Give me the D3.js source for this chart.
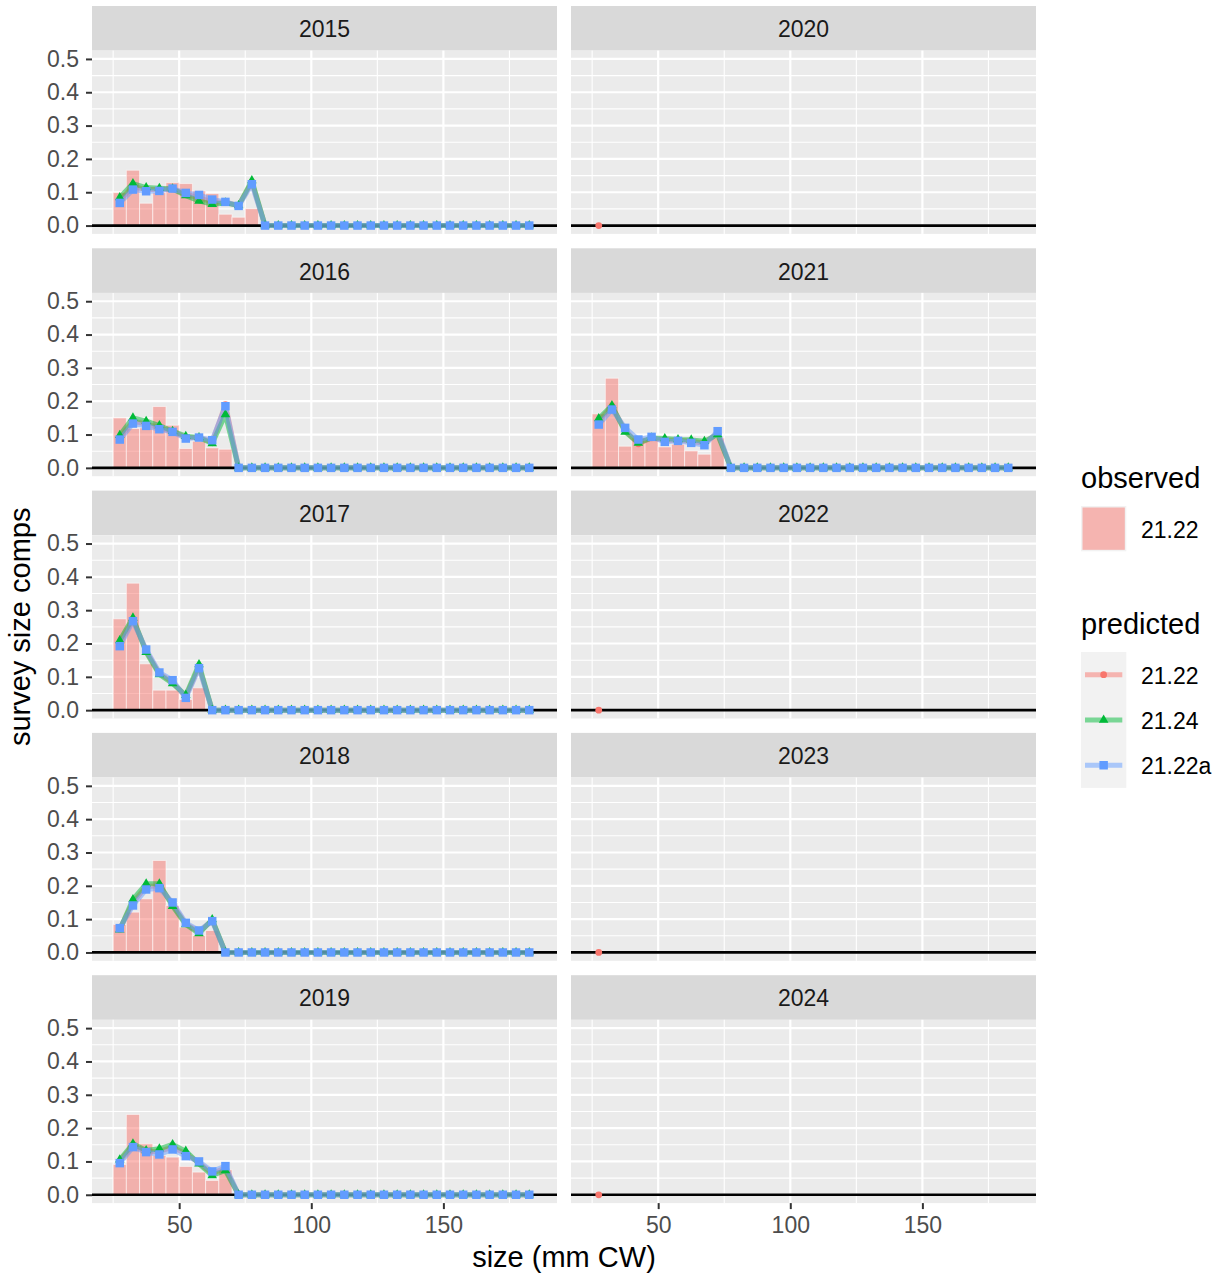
<!DOCTYPE html>
<html>
<head>
<meta charset="utf-8">
<script src="https://cdn.jsdelivr.net/npm/d3@7"></script>
<style>
  body { margin: 0; background: #fff; }
  svg text { font-family: "Liberation Sans", Arial, Helvetica, sans-serif; }
</style>
</head>
<body>
<div id="chart"></div>
<script>
// Facet years (left column 2015-2019, right column 2020-2024)
const years = [2015, 2016, 2017, 2018, 2019, 2020, 2021, 2022, 2023, 2024];

// Size bin mid points (mm CW)
const sizes = [27.5, 32.5, 37.5, 42.5, 47.5, 52.5, 57.5, 62.5, 67.5, 72.5, 77.5, 82.5, 87.5, 92.5, 97.5, 102.5,
  107.5, 112.5, 117.5, 122.5, 127.5, 132.5, 137.5, 142.5, 147.5, 152.5, 157.5, 162.5, 167.5, 172.5, 177.5, 182.5];

// Observed comps (model 21.22), one array per year, starting at the first bin
const observed2122 = [
  [0.099, 0.166, 0.067, 0.099, 0.129, 0.126, 0.104, 0.096, 0.034, 0.025, 0.051],
  [0.150, 0.118, 0.120, 0.184, 0.128, 0.058, 0.080, 0.060, 0.056],
  [0.274, 0.381, 0.139, 0.060, 0.060, 0.032, 0.067],
  [0.084, 0.121, 0.161, 0.276, 0.141, 0.076, 0.051, 0.066],
  [0.091, 0.241, 0.153, 0.118, 0.113, 0.085, 0.068, 0.043, 0.075],
  [],
  [0.162, 0.269, 0.065, 0.092, 0.085, 0.063, 0.071, 0.051, 0.041, 0.090],
  [],
  [],
  []
];

// Predicted comps, model 21.22
const pred2122 = [
  [0.075, 0.118, 0.108, 0.108, 0.110, 0.094, 0.083, 0.071, 0.070, 0.060, 0.130, 0, 0, 0, 0, 0, 0, 0, 0, 0, 0, 0, 0, 0, 0, 0, 0, 0, 0, 0, 0, 0],
  [0.090, 0.140, 0.132, 0.120, 0.109, 0.091, 0.091, 0.078, 0.190, 0, 0, 0, 0, 0, 0, 0, 0, 0, 0, 0, 0, 0, 0, 0, 0, 0, 0, 0, 0, 0, 0, 0],
  [0.200, 0.272, 0.178, 0.110, 0.085, 0.040, 0.130, 0, 0, 0, 0, 0, 0, 0, 0, 0, 0, 0, 0, 0, 0, 0, 0, 0, 0, 0, 0, 0, 0, 0, 0, 0],
  [0.070, 0.150, 0.198, 0.200, 0.145, 0.086, 0.062, 0.096, 0, 0, 0, 0, 0, 0, 0, 0, 0, 0, 0, 0, 0, 0, 0, 0, 0, 0, 0, 0, 0, 0, 0, 0],
  [0.100, 0.148, 0.130, 0.130, 0.143, 0.123, 0.096, 0.064, 0.080, 0, 0, 0, 0, 0, 0, 0, 0, 0, 0, 0, 0, 0, 0, 0, 0, 0, 0, 0, 0, 0, 0, 0],
  [0],
  [0.140, 0.185, 0.112, 0.072, 0.090, 0.083, 0.083, 0.080, 0.074, 0.105, 0, 0, 0, 0, 0, 0, 0, 0, 0, 0, 0, 0, 0, 0, 0, 0, 0, 0, 0, 0, 0, 0],
  [0],
  [0],
  [0]
];

// Predicted comps, model 21.24
const pred2124 = [
  [0.084, 0.126, 0.114, 0.112, 0.110, 0.090, 0.074, 0.064, 0.068, 0.060, 0.135, 0, 0, 0, 0, 0, 0, 0, 0, 0, 0, 0, 0, 0, 0, 0, 0, 0, 0, 0, 0, 0],
  [0.098, 0.150, 0.140, 0.127, 0.110, 0.095, 0.091, 0.073, 0.160, 0, 0, 0, 0, 0, 0, 0, 0, 0, 0, 0, 0, 0, 0, 0, 0, 0, 0, 0, 0, 0, 0, 0],
  [0.209, 0.277, 0.174, 0.107, 0.080, 0.045, 0.137, 0, 0, 0, 0, 0, 0, 0, 0, 0, 0, 0, 0, 0, 0, 0, 0, 0, 0, 0, 0, 0, 0, 0, 0, 0],
  [0.068, 0.159, 0.206, 0.206, 0.139, 0.084, 0.057, 0.099, 0, 0, 0, 0, 0, 0, 0, 0, 0, 0, 0, 0, 0, 0, 0, 0, 0, 0, 0, 0, 0, 0, 0, 0],
  [0.105, 0.153, 0.133, 0.138, 0.151, 0.131, 0.093, 0.058, 0.073, 0, 0, 0, 0, 0, 0, 0, 0, 0, 0, 0, 0, 0, 0, 0, 0, 0, 0, 0, 0, 0, 0, 0],
  [],
  [0.148, 0.187, 0.108, 0.075, 0.090, 0.088, 0.085, 0.084, 0.080, 0.100, 0, 0, 0, 0, 0, 0, 0, 0, 0, 0, 0, 0, 0, 0, 0, 0, 0, 0, 0, 0, 0, 0],
  [],
  [],
  []
];

// Predicted comps, model 21.22a
const pred2122a = [
  [0.068, 0.108, 0.103, 0.104, 0.111, 0.098, 0.092, 0.078, 0.071, 0.059, 0.124, 0, 0, 0, 0, 0, 0, 0, 0, 0, 0, 0, 0, 0, 0, 0, 0, 0, 0, 0, 0, 0],
  [0.085, 0.133, 0.126, 0.116, 0.108, 0.088, 0.091, 0.083, 0.185, 0, 0, 0, 0, 0, 0, 0, 0, 0, 0, 0, 0, 0, 0, 0, 0, 0, 0, 0, 0, 0, 0, 0],
  [0.192, 0.267, 0.182, 0.113, 0.090, 0.037, 0.126, 0, 0, 0, 0, 0, 0, 0, 0, 0, 0, 0, 0, 0, 0, 0, 0, 0, 0, 0, 0, 0, 0, 0, 0, 0],
  [0.073, 0.141, 0.189, 0.193, 0.150, 0.089, 0.066, 0.094, 0, 0, 0, 0, 0, 0, 0, 0, 0, 0, 0, 0, 0, 0, 0, 0, 0, 0, 0, 0, 0, 0, 0, 0],
  [0.095, 0.143, 0.128, 0.121, 0.136, 0.116, 0.100, 0.070, 0.086, 0, 0, 0, 0, 0, 0, 0, 0, 0, 0, 0, 0, 0, 0, 0, 0, 0, 0, 0, 0, 0, 0, 0],
  [],
  [0.130, 0.175, 0.120, 0.085, 0.093, 0.078, 0.081, 0.075, 0.068, 0.110, 0, 0, 0, 0, 0, 0, 0, 0, 0, 0, 0, 0, 0, 0, 0, 0, 0, 0, 0, 0, 0, 0],
  [],
  [],
  []
];

const yTicks = [0, 0.1, 0.2, 0.3, 0.4, 0.5];
const yMinor = [0.05, 0.15, 0.25, 0.35, 0.45];
const xTicks = [50, 100, 150];
const xMinor = [25, 75, 125, 175];

// Layout
const panelW = 465, panelH = 183.3, stripH = 44.6, rowStep = 242.3, top0 = 6;
const colX = [92, 571];
const binW = 5;

const x = d3.scaleLinear().domain([17, 193]).range([0, panelW]);
const y = d3.scaleLinear().domain([-0.025, 0.525]).range([panelH, 0]);

const series = [
  {name: '21.22', values: pred2122, color: '#F8766D', shape: d3.symbolCircle, size: 36},
  {name: '21.24', values: pred2124, color: '#00BA38', shape: d3.symbolTriangle, size: 40},
  {name: '21.22a', values: pred2122a, color: '#619CFF', shape: d3.symbolSquare, size: 72}
];

const svg = d3.select('#chart').append('svg')
    .attr('width', 1225)
    .attr('height', 1277);

const line = d3.line()
    .x((d, j) => x(sizes[j]))
    .y(d => y(d));

years.forEach((yr, i) => {
  const col = Math.floor(i / 5), row = i % 5;
  const g = svg.append('g')
      .attr('transform', `translate(${colX[col]}, ${top0 + row * rowStep})`);

  // Strip
  g.append('rect')
      .attr('width', panelW)
      .attr('height', stripH)
      .attr('fill', '#D9D9D9');
  g.append('text')
      .attr('x', panelW / 2)
      .attr('y', stripH / 2 + 9)
      .attr('text-anchor', 'middle')
      .attr('font-size', 23)
      .attr('fill', '#1A1A1A')
      .text(yr);

  const p = g.append('g').attr('transform', `translate(0, ${stripH})`);
  p.append('rect')
      .attr('width', panelW)
      .attr('height', panelH)
      .attr('fill', '#EBEBEB');

  // Grid lines
  p.append('g').selectAll('line').data(yMinor).join('line')
      .attr('x1', 0).attr('x2', panelW)
      .attr('y1', d => y(d)).attr('y2', d => y(d))
      .attr('stroke', '#fff').attr('stroke-width', 1.1);
  p.append('g').selectAll('line').data(xMinor).join('line')
      .attr('y1', 0).attr('y2', panelH)
      .attr('x1', d => x(d)).attr('x2', d => x(d))
      .attr('stroke', '#fff').attr('stroke-width', 1.1);
  p.append('g').selectAll('line').data(yTicks).join('line')
      .attr('x1', 0).attr('x2', panelW)
      .attr('y1', d => y(d)).attr('y2', d => y(d))
      .attr('stroke', '#fff').attr('stroke-width', 2.2);
  p.append('g').selectAll('line').data(xTicks).join('line')
      .attr('y1', 0).attr('y2', panelH)
      .attr('x1', d => x(d)).attr('x2', d => x(d))
      .attr('stroke', '#fff').attr('stroke-width', 2.2);

  // Observed bars
  p.append('g').selectAll('rect').data(observed2122[i]).join('rect')
      .attr('x', (d, j) => x(sizes[j] - binW / 2))
      .attr('width', x(binW) - x(0))
      .attr('y', d => y(d))
      .attr('height', d => y(0) - y(d))
      .attr('fill', '#F8766D')
      .attr('fill-opacity', 0.5)
      .attr('stroke', '#fff')
      .attr('stroke-opacity', 0.55)
      .attr('stroke-width', 1);

  // Zero reference line
  p.append('line')
      .attr('x1', 0).attr('x2', panelW)
      .attr('y1', y(0)).attr('y2', y(0))
      .attr('stroke', '#000')
      .attr('stroke-width', 2.7);

  // Predicted lines then points
  series.forEach(s => {
    const vals = s.values[i];
    if (vals.length < 2) return;
    p.append('path')
        .datum(vals)
        .attr('d', line)
        .attr('fill', 'none')
        .attr('stroke', s.color)
        .attr('stroke-opacity', 0.5)
        .attr('stroke-width', 5)
        .attr('stroke-linejoin', 'round');
  });
  series.forEach(s => {
    p.append('g').selectAll('path').data(s.values[i]).join('path')
        .attr('transform', (d, j) => `translate(${x(sizes[j])}, ${y(d)})`)
        .attr('d', d3.symbol(s.shape, s.size))
        .attr('fill', s.color);
  });

  // Axes
  if (col === 0) {
    const ax = p.append('g')
        .call(d3.axisLeft(y).tickValues(yTicks).tickFormat(d3.format('.1f')).tickSize(6).tickPadding(7));
    styleAxis(ax);
  }
  if (row === 4) {
    const ax = p.append('g')
        .attr('transform', `translate(0, ${panelH})`)
        .call(d3.axisBottom(x).tickValues(xTicks).tickSize(6).tickPadding(8));
    styleAxis(ax);
  }
});

function styleAxis(ax) {
  ax.select('.domain').remove();
  ax.selectAll('.tick line').attr('stroke', '#333').attr('stroke-width', 2);
  ax.selectAll('.tick text')
      .attr('fill', '#4D4D4D')
      .attr('font-size', 23)
      .style('font-family', '"Liberation Sans", Arial, sans-serif');
}

// Axis titles
svg.append('text')
    .attr('x', (colX[0] + colX[1] + panelW) / 2)
    .attr('y', 1267)
    .attr('text-anchor', 'middle')
    .attr('font-size', 29)
    .text('size (mm CW)');
svg.append('text')
    .attr('transform', `translate(30, ${top0 + (4 * rowStep + stripH + panelH + stripH) / 2}) rotate(-90)`)
    .attr('text-anchor', 'middle')
    .attr('font-size', 29)
    .text('survey size comps');

// Legend
const leg = svg.append('g').attr('transform', 'translate(1081, 0)');
leg.append('text').attr('x', 0).attr('y', 488).attr('font-size', 29).text('observed');
leg.append('rect').attr('x', 0).attr('y', 506).attr('width', 45.3).attr('height', 45.3).attr('fill', '#F2F2F2');
leg.append('rect').attr('x', 1.5).attr('y', 507.5).attr('width', 42.3).attr('height', 42.3)
    .attr('fill', '#F8766D').attr('fill-opacity', 0.5);
leg.append('text').attr('x', 60).attr('y', 538).attr('font-size', 23).text(series[0].name);

leg.append('text').attr('x', 0).attr('y', 634).attr('font-size', 29).text('predicted');
leg.append('rect').attr('x', 0).attr('y', 652).attr('width', 45.3).attr('height', 45.3 * 3).attr('fill', '#F2F2F2');
const keys = leg.selectAll('g.key').data(series).join('g')
    .attr('class', 'key')
    .attr('transform', (d, k) => `translate(0, ${652 + 45.3 * k + 22.65})`);
keys.append('line')
    .attr('x1', 4).attr('x2', 41.3)
    .attr('stroke', d => d.color)
    .attr('stroke-opacity', 0.5)
    .attr('stroke-width', 5);
keys.append('path')
    .attr('transform', 'translate(22.65, 0)')
    .attr('d', d => d3.symbol(d.shape, d.size)())
    .attr('fill', d => d.color);
keys.append('text')
    .attr('x', 60).attr('y', 9)
    .attr('font-size', 23)
    .text(d => d.name);
</script>
</body>
</html>
